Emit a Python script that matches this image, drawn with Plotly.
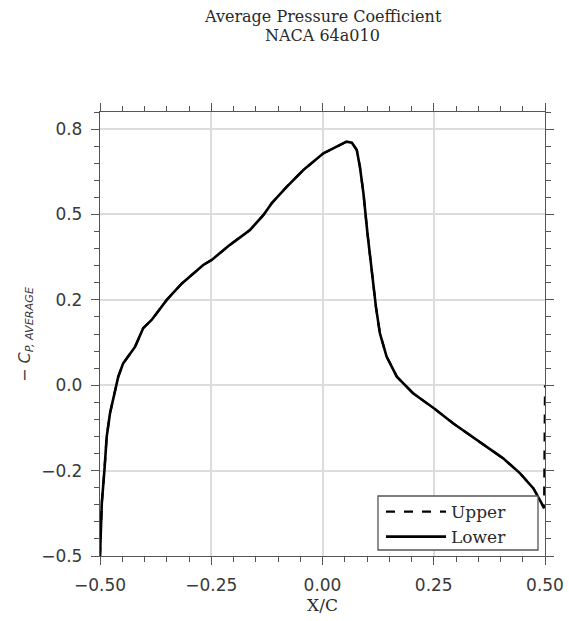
import plotly.graph_objects as go

x_c = [-0.5, -0.496, -0.490, -0.485, -0.4775, -0.466, -0.459, -0.448, -0.421, -0.403,
       -0.384, -0.350, -0.316, -0.268, -0.249, -0.208, -0.163, -0.133, -0.114, -0.0805,
       -0.043, 0.002, 0.032, 0.054, 0.066, 0.077, 0.084, 0.092, 0.101, 0.111,
       0.120, 0.129, 0.144, 0.167, 0.204, 0.219, 0.251, 0.294, 0.332, 0.369,
       0.406, 0.444, 0.474, 0.4925, 0.498]
cp_avg = [-0.50, -0.346, -0.248, -0.151, -0.082, -0.014, 0.025, 0.064, 0.113, 0.167,
          0.191, 0.250, 0.298, 0.352, 0.367, 0.411, 0.4545, 0.498, 0.533, 0.581,
          0.630, 0.679, 0.700, 0.713, 0.710, 0.689, 0.640, 0.562, 0.445, 0.328,
          0.230, 0.152, 0.084, 0.025, -0.024, -0.038, -0.068, -0.112, -0.146, -0.180,
          -0.214, -0.258, -0.302, -0.346, -0.360]

# upper surface closes at the trailing edge
x_upper = x_c + [0.5]
cp_upper = cp_avg + [0.0]
x_lower = x_c
cp_lower = cp_avg

y_tickvals = [-0.5, -0.25, 0.0, 0.25, 0.5, 0.75]
y_ticktext = ["\u22120.5", "\u22120.2", "0.0", "0.2", "0.5", "0.8"]
x_tickvals = [-0.5, -0.25, 0.0, 0.25, 0.5]
x_ticktext = ["\u22120.50", "\u22120.25", "0.00", "0.25", "0.50"]

serif = "DejaVu Serif"
sans = "DejaVu Sans"
axcol = "#555555"

W, H = 569, 621
ML, MT, MR, MB = 100, 112, 24, 65
PW, PH = W - ML - MR, H - MT - MB


def px_x(p):
    return (p - ML) / PW


def px_y(p):
    return (MT + PH - p) / PH


fig = go.Figure()
fig.add_trace(go.Scatter(x=x_upper, y=cp_upper, mode="lines", name="Upper",
                         line=dict(color="black", width=2.2, dash="dash")))
fig.add_trace(go.Scatter(x=x_lower, y=cp_lower, mode="lines", name="Lower",
                         line=dict(color="black", width=2.6)))

common = dict(showline=True, linecolor=axcol, linewidth=1.3, mirror="ticks",
              ticks="outside", ticklen=8, tickwidth=1.3, tickcolor=axcol,
              showgrid=True, gridcolor="#dcdcdc", gridwidth=2, zeroline=False,
              automargin=False,
              tickfont=dict(family=sans, size=17, color="#3a3a3a"))

fig.update_xaxes(range=[-0.5, 0.5], tickvals=x_tickvals, ticktext=x_ticktext,
                 minor=dict(dtick=0.05, ticks="outside", ticklen=5, tickcolor=axcol, showgrid=False),
                 ticklabelstandoff=5,
                 title=dict(text="X/C", font=dict(family=serif, size=17, color="#2a2a2a"), standoff=0),
                 **common)
fig.update_yaxes(range=[-0.5, 0.8], tickvals=y_tickvals, ticktext=y_ticktext,
                 minor=dict(dtick=0.05, ticks="outside", ticklen=5, tickcolor=axcol, showgrid=False),
                 ticklabelstandoff=5,
                 **common)

fig.add_annotation(xref="paper", yref="paper", x=px_x(25), y=0.5, xanchor="center", yanchor="middle",
                   textangle=-90, showarrow=False,
                   text="\u2212 <i>C</i><sub><i>P, AVERAGE</i></sub>",
                   font=dict(family=sans, size=16, color="#3a3a3a"))

title_font = dict(family=serif, size=16, color="#2a2a2a")
fig.add_annotation(xref="paper", yref="paper", x=0.5, y=px_y(16), xanchor="center",
                   yanchor="middle", showarrow=False, text="Average Pressure Coefficient", font=title_font)
fig.add_annotation(xref="paper", yref="paper", x=0.5, y=px_y(35), xanchor="center",
                   yanchor="middle", showarrow=False, text="NACA 64a010", font=title_font)

# legend frame
fig.add_shape(type="rect", xref="paper", yref="paper",
              x0=px_x(378), x1=px_x(538), y0=px_y(550), y1=px_y(496),
              line=dict(color=axcol, width=1.3), fillcolor="white", layer="above")

fig.update_layout(
    width=W, height=H,
    margin=dict(l=ML, r=MR, t=MT, b=MB),
    paper_bgcolor="white", plot_bgcolor="white",
    legend=dict(x=px_x(381), y=px_y(494), xanchor="left", yanchor="top",
                borderwidth=0, bgcolor="rgba(0,0,0,0)",
                font=dict(family=serif, size=17, color="#2a2a2a"),
                tracegroupgap=0, itemwidth=60),
    showlegend=True,
)

fig.write_html("out.html", config={"displayModeBar": False},
               post_script="document.body.style.margin='0';document.body.style.overflow='hidden';")
